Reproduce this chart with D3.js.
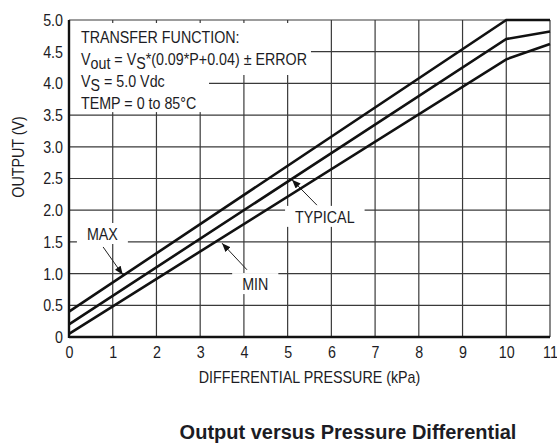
<!DOCTYPE html>
<html>
<head>
<meta charset="utf-8">
<script src="https://cdn.jsdelivr.net/npm/d3@7"></script>
<style>
  body { margin: 0; background: #fff; }
  text { font-family: "Liberation Sans", Arial, sans-serif; fill: #1c1c24; }
</style>
</head>
<body>
<svg id="chart" width="557" height="443"></svg>
<script>
// output curves (V) vs differential pressure (kPa)
const pressure = [0, 10, 11];
const maxOut = [0.4, 5.0, 5.0];
const typOut = [0.2, 4.7, 4.82];
const minOut = [0.05, 4.38, 4.62];

const xTicks = [0, 1, 2, 3, 4, 5, 6, 7, 8, 9, 10, 11];
const yTicks = [0, 0.5, 1.0, 1.5, 2.0, 2.5, 3.0, 3.5, 4.0, 4.5, 5.0];
const yTickLabels = ["0", "0.5", "1.0", "1.5", "2.0", "2.5", "3.0", "3.5", "4.0", "4.5", "5.0"];

// callout labels: text anchor, leader start, arrow tip (data units)
const callouts = [
  { text: "MAX", at: [0.41, 1.53], from: [0.78, 1.42], to: [1.23, 0.98] },
  { text: "TYPICAL", at: [5.17, 1.80], from: [5.67, 2.08], to: [5.10, 2.48] },
  { text: "MIN", at: [3.96, 0.74], from: [4.07, 1.06], to: [3.50, 1.48] }
];

const svg = d3.select("#chart");
const margin = { left: 69, top: 20, right: 7, bottom: 106 };
const W = 557, H = 443;
const fs = 17;
const squeezeK = 0.84; // the original uses a condensed face

const x = d3.scaleLinear().domain([0, 11]).range([margin.left, W - margin.right]);
const y = d3.scaleLinear().domain([0, 5]).range([H - margin.bottom, margin.top]);

function squeeze(sel) {
  sel.each(function () {
    const w = this.getComputedTextLength();
    d3.select(this).attr("textLength", w * squeezeK).attr("lengthAdjust", "spacingAndGlyphs");
  });
  return sel;
}

svg.append("defs").append("marker")
  .attr("id", "arrow")
  .attr("viewBox", "0 -4 10 8")
  .attr("refX", 10).attr("refY", 0)
  .attr("markerWidth", 9).attr("markerHeight", 7)
  .attr("markerUnits", "userSpaceOnUse")
  .attr("orient", "auto")
  .append("path")
  .attr("d", "M0,-4L10,0L0,4Z")
  .attr("fill", "#111");

// grid
const grid = svg.append("g").attr("stroke", "#3a3a3a").attr("stroke-width", 1.2);
grid.selectAll("line.v").data(xTicks.slice(1)).enter().append("line")
  .attr("x1", d => x(d)).attr("x2", d => x(d))
  .attr("y1", y(0)).attr("y2", y(5));
grid.selectAll("line.h").data(yTicks.slice(1)).enter().append("line")
  .attr("x1", x(0)).attr("x2", x(11))
  .attr("y1", d => y(d)).attr("y2", d => y(d));

// white patches behind text, then the text
const maskLayer = svg.append("g");
const textLayer = svg.append("g");

function mask(sel, padX, padTop, padBot) {
  const b = sel.node().getBBox();
  maskLayer.append("rect")
    .attr("x", b.x - padX).attr("y", b.y - padTop)
    .attr("width", b.width + 2 * padX).attr("height", b.height + padTop + padBot)
    .attr("fill", "#fff");
}

// transfer function box, condensed by scaling each line
const boxX = x(0) + 12;
function boxLine(yb) {
  return textLayer.append("text")
    .attr("transform", `translate(${boxX},${yb}) scale(${squeezeK},1)`)
    .attr("font-size", fs);
}
boxLine(43).text("TRANSFER FUNCTION:");
const t2 = boxLine(65);
t2.append("tspan").text("V");
t2.append("tspan").attr("dy", 4).text("out");
t2.append("tspan").attr("dy", -4).text(" = V");
t2.append("tspan").attr("dy", 4).text("S");
t2.append("tspan").attr("dy", -4).text("*(0.09*P+0.04) \u00b1 ERROR");
const t3 = boxLine(87);
t3.append("tspan").text("V");
t3.append("tspan").attr("dy", 4).text("S");
t3.append("tspan").attr("dy", -4).text(" = 5.0 Vdc");
boxLine(109).text("TEMP = 0 to 85\u00b0C");

// two-step patch for the transfer function box
const b2w = t2.node().getBBox().width * squeezeK;
maskLayer.append("rect").attr("x", x(0) + 1).attr("y", y(5) + 3)
  .attr("width", boxX + b2w + 3 - x(0)).attr("height", 52).attr("fill", "#fff");
maskLayer.append("rect").attr("x", x(0) + 1).attr("y", y(5) + 50)
  .attr("width", 139).attr("height", y(3.5) - y(5) - 53).attr("fill", "#fff");

// callouts
callouts.forEach(c => {
  const t = textLayer.append("text")
    .attr("x", x(c.at[0])).attr("y", y(c.at[1]))
    .attr("font-size", fs).text(c.text);
  squeeze(t);
  mask(t, 10, 2, 0);
  textLayer.append("line")
    .attr("x1", x(c.from[0])).attr("y1", y(c.from[1]))
    .attr("x2", x(c.to[0])).attr("y2", y(c.to[1]))
    .attr("stroke", "#222").attr("stroke-width", 1)
    .attr("marker-end", "url(#arrow)");
});

// curves
const line = d3.line().x(d => x(d[0])).y(d => y(d[1]));
[maxOut, typOut, minOut].forEach(s => {
  svg.append("path")
    .datum(pressure.map((p, i) => [p, s[i]]))
    .attr("d", line)
    .attr("fill", "none")
    .attr("stroke", "#111")
    .attr("stroke-width", 2.6);
});

// axes
svg.append("line").attr("x1", x(0)).attr("x2", x(0)).attr("y1", y(0) + 1).attr("y2", y(5))
  .attr("stroke", "#111").attr("stroke-width", 2.4);
svg.append("line").attr("x1", x(0)).attr("x2", x(11)).attr("y1", y(0)).attr("y2", y(0))
  .attr("stroke", "#111").attr("stroke-width", 2.4);

const xAxis = svg.append("g")
  .attr("transform", `translate(0,${y(0)})`)
  .call(d3.axisBottom(x).tickValues(xTicks).tickSize(0).tickPadding(9).tickFormat(d3.format("d")));
xAxis.select(".domain").remove();
xAxis.selectAll("text").attr("font-size", fs).attr("font-family", null).attr("fill", null);
squeeze(xAxis.selectAll("text"));

const yAxis = svg.append("g")
  .attr("transform", `translate(${x(0)},0)`)
  .call(d3.axisLeft(y).tickValues(yTicks).tickSize(0).tickPadding(6).tickFormat((d, i) => yTickLabels[i]));
yAxis.select(".domain").remove();
yAxis.selectAll("text").attr("font-size", fs).attr("font-family", null).attr("fill", null);
squeeze(yAxis.selectAll("text"));
svg.selectAll(".tick line").remove();

squeeze(svg.append("text")
  .attr("x", (x(0) + x(11)) / 2).attr("y", 383)
  .attr("text-anchor", "middle").attr("font-size", fs)
  .text("DIFFERENTIAL PRESSURE (kPa)"));

squeeze(svg.append("text")
  .attr("transform", `translate(24,157) rotate(-90)`)
  .attr("text-anchor", "middle").attr("font-size", fs)
  .text("OUTPUT (V)"));

svg.append("text")
  .attr("x", 348).attr("y", 439)
  .attr("text-anchor", "middle")
  .attr("font-size", 20).attr("font-weight", "bold")
  .text("Output versus Pressure Differential");
</script>
</body>
</html>
